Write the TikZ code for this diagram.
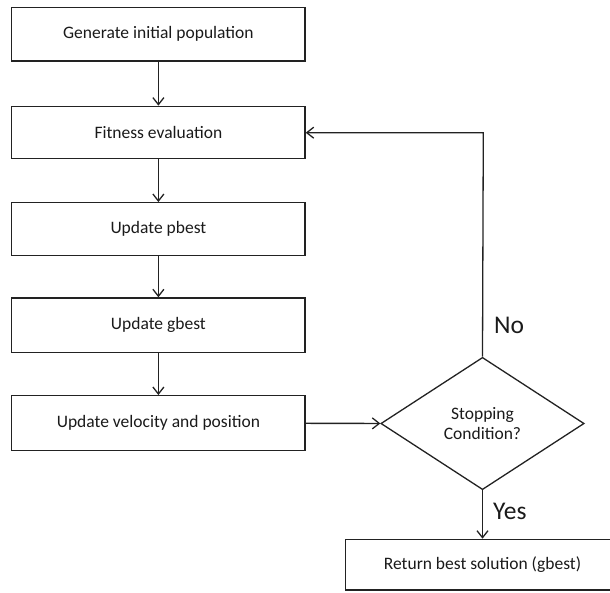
\documentclass[tikz,border=0pt]{standalone}
\usepackage{fontspec}
\setmainfont{Carlito}
\usetikzlibrary{shapes.geometric,arrows.meta}
\definecolor{ln}{HTML}{222222}
\definecolor{tx}{HTML}{1A1A1A}
\tikzset{
  stepbox/.style={draw=ln, line width=1.3pt, rectangle, minimum width=293.3pt, inner sep=0pt,
    font=\fontsize{17.5}{20}\selectfont, text=tx},
  decision/.style={draw=ln, line width=1.3pt, diamond, aspect=1.537, minimum width=203.3pt,
    minimum height=132.3pt, inner sep=0pt, align=center, font=\fontsize{17.5}{20}\selectfont, text=tx},
  flow/.style={draw=ln, line width=1.3pt, -{Straight Barb[length=7pt,width=11pt,line width=1.3pt]}},
  lbl/.style={font=\fontsize{25.5}{28}\selectfont, text=tx, inner sep=0pt, anchor=west}
}
\begin{document}
\begin{tikzpicture}[x=1pt,y=-1pt]
\useasboundingbox (0,0) rectangle (610,592);
\node[stepbox, minimum height=53.7pt] (gen) at (158.4,34.2) {Generate initial population};
\node[stepbox, minimum height=52pt] (fit) at (158.4,132.3) {Fitness evaluation};
\node[stepbox, minimum height=53pt] (pb) at (158.4,229.2) {Update pbest};
\node[stepbox, minimum height=54.7pt] (gb) at (158.4,325.3) {Update gbest};
\node[stepbox, minimum height=55pt] (vel) at (158.4,423.2) {Update velocity and position};
\node[decision] (stop) at (482.5,423.5) {Stopping\\Condition?};
\node[stepbox, minimum width=273.6pt, minimum height=50.7pt] (ret) at (482.5,564.7) {Return best solution (gbest)};
\coordinate (corner) at (483.3,132.7);
\draw[flow] (gen) -- (fit);
\draw[flow] (fit) -- (pb);
\draw[flow] (pb) -- (gb);
\draw[flow] (gb) -- (vel);
\draw[flow] (vel) -- (stop);
\draw[flow] (stop.north) -- (corner) -- (fit.east |- corner);
\draw[flow] (stop) -- (ret);
\node[lbl] (no) at (494,325) {No};
\node[lbl] (yes) at (493,511.7) {Yes};
\end{tikzpicture}
\end{document}
